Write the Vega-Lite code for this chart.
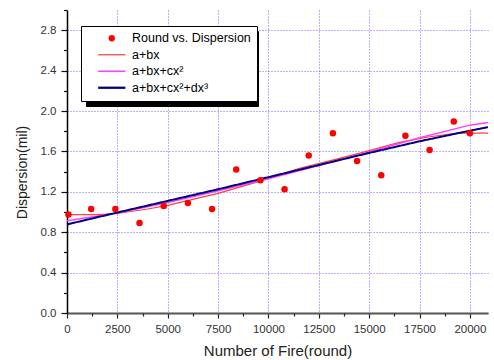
{
  "$schema": "https://vega.github.io/schema/vega-lite/v6.json",
  "width": 421,
  "height": 303,
  "autosize": {"type": "none"},
  "padding": {"left": 67, "top": 10, "right": 6, "bottom": 47},
  "background": "white",
  "config": {
    "font": "Liberation Sans",
    "view": {"stroke": null},
    "axis": {"gridColor": "#3a3aff", "gridOpacity": 0.75, "gridDash": [1, 2], "gridWidth": 1, "labelFont": "Liberation Sans", "titleFont": "Liberation Sans", "titleFontWeight": "normal"}
  },
  "datasets": {
    "points": [
      {"x": 70, "y": 0.975, "series": "Round vs. Dispersion"},
      {"x": 1200, "y": 1.03, "series": "Round vs. Dispersion"},
      {"x": 2400, "y": 1.03, "series": "Round vs. Dispersion"},
      {"x": 3600, "y": 0.89, "series": "Round vs. Dispersion"},
      {"x": 4800, "y": 1.06, "series": "Round vs. Dispersion"},
      {"x": 6000, "y": 1.09, "series": "Round vs. Dispersion"},
      {"x": 7200, "y": 1.03, "series": "Round vs. Dispersion"},
      {"x": 8400, "y": 1.42, "series": "Round vs. Dispersion"},
      {"x": 9600, "y": 1.315, "series": "Round vs. Dispersion"},
      {"x": 10800, "y": 1.225, "series": "Round vs. Dispersion"},
      {"x": 12000, "y": 1.56, "series": "Round vs. Dispersion"},
      {"x": 13200, "y": 1.78, "series": "Round vs. Dispersion"},
      {"x": 14400, "y": 1.505, "series": "Round vs. Dispersion"},
      {"x": 15600, "y": 1.365, "series": "Round vs. Dispersion"},
      {"x": 16800, "y": 1.755, "series": "Round vs. Dispersion"},
      {"x": 18000, "y": 1.615, "series": "Round vs. Dispersion"},
      {"x": 19200, "y": 1.895, "series": "Round vs. Dispersion"},
      {"x": 20000, "y": 1.78, "series": "Round vs. Dispersion"}
    ],
    "fits": [
      {"x": 0, "y": 0.975, "series": "a+bx"},
      {"x": 1500, "y": 0.975, "series": "a+bx"},
      {"x": 2500, "y": 0.985, "series": "a+bx"},
      {"x": 4000, "y": 1.03, "series": "a+bx"},
      {"x": 5000, "y": 1.065, "series": "a+bx"},
      {"x": 7500, "y": 1.185, "series": "a+bx"},
      {"x": 9500, "y": 1.3, "series": "a+bx"},
      {"x": 11500, "y": 1.43, "series": "a+bx"},
      {"x": 14500, "y": 1.58, "series": "a+bx"},
      {"x": 16500, "y": 1.69, "series": "a+bx"},
      {"x": 18000, "y": 1.745, "series": "a+bx"},
      {"x": 19400, "y": 1.78, "series": "a+bx"},
      {"x": 20900, "y": 1.78, "series": "a+bx"},
      {"x": 0, "y": 0.913, "series": "a+bx+cx²"},
      {"x": 2500, "y": 0.99, "series": "a+bx+cx²"},
      {"x": 5000, "y": 1.095, "series": "a+bx+cx²"},
      {"x": 7500, "y": 1.21, "series": "a+bx+cx²"},
      {"x": 10000, "y": 1.33, "series": "a+bx+cx²"},
      {"x": 12500, "y": 1.46, "series": "a+bx+cx²"},
      {"x": 15000, "y": 1.595, "series": "a+bx+cx²"},
      {"x": 17500, "y": 1.735, "series": "a+bx+cx²"},
      {"x": 20000, "y": 1.86, "series": "a+bx+cx²"},
      {"x": 20900, "y": 1.885, "series": "a+bx+cx²"},
      {"x": 0, "y": 0.877, "series": "a+bx+cx²+dx³"},
      {"x": 2500, "y": 0.995, "series": "a+bx+cx²+dx³"},
      {"x": 5000, "y": 1.11, "series": "a+bx+cx²+dx³"},
      {"x": 7500, "y": 1.225, "series": "a+bx+cx²+dx³"},
      {"x": 10000, "y": 1.345, "series": "a+bx+cx²+dx³"},
      {"x": 12500, "y": 1.465, "series": "a+bx+cx²+dx³"},
      {"x": 15000, "y": 1.585, "series": "a+bx+cx²+dx³"},
      {"x": 17500, "y": 1.7, "series": "a+bx+cx²+dx³"},
      {"x": 20000, "y": 1.805, "series": "a+bx+cx²+dx³"},
      {"x": 20900, "y": 1.84, "series": "a+bx+cx²+dx³"}
    ]
  },
  "resolve": {"axis": {"x": "independent", "y": "independent"}},
  "layer": [
    {
      "data": {"name": "fits"},
      "transform": [{"filter": "datum.series === 'a+bx'"}],
      "mark": {"type": "line", "strokeWidth": 1.2, "color": "#ff4040"},
      "encoding": {
        "x": {"field": "x", "type": "quantitative", "scale": {"domain": [0, 20900], "nice": false, "zero": false},
          "axis": {"orient": "bottom", "values": [0, 2500, 5000, 7500, 10000, 12500, 15000, 17500, 20000], "format": "d", "grid": true, "tickSize": 5, "tickColor": "#222", "tickWidth": 1.2, "domainColor": "#555", "domainWidth": 2, "labelFontSize": 11.5, "labelColor": "#333", "labelPadding": 5, "labelFlush": false, "labelOverlap": false, "title": "Number of Fire(round)", "titleFontSize": 15, "titleColor": "#222", "titleY": 42.8, "titleBaseline": "alphabetic"}},
        "y": {"field": "y", "type": "quantitative", "scale": {"domain": [0, 3], "nice": false, "zero": false},
          "axis": {"orient": "left", "values": [0, 0.4, 0.8, 1.2, 1.6, 2.0, 2.4, 2.8], "format": ".1f", "grid": true, "tickSize": 6, "tickColor": "#111", "tickWidth": 1.2, "domainColor": "#000", "domainWidth": 1.5, "labelFontSize": 11.5, "labelColor": "#333", "labelPadding": 5, "labelFlush": false, "labelOverlap": false, "title": "Dispersion(mil)", "titleFontSize": 14, "titleColor": "#222", "titleX": -45, "titleY": 162, "titleBaseline": "middle", "titleAngle": -90}}
      }
    },
    {
      "data": {"name": "fits"},
      "transform": [{"filter": "datum.series === 'a+bx+cx²'"}],
      "mark": {"type": "line", "strokeWidth": 1.5, "color": "#ff40ff"},
      "encoding": {
        "x": {"field": "x", "type": "quantitative", "axis": null},
        "y": {"field": "y", "type": "quantitative", "axis": null}
      }
    },
    {
      "data": {"name": "fits"},
      "transform": [{"filter": "datum.series === 'a+bx+cx²+dx³'"}],
      "mark": {"type": "line", "strokeWidth": 2, "color": "#000080"},
      "encoding": {
        "x": {"field": "x", "type": "quantitative", "axis": null},
        "y": {"field": "y", "type": "quantitative", "axis": null},
        "strokeDash": {"field": "series", "type": "nominal",
          "scale": {"domain": ["a+bx", "a+bx+cx²", "a+bx+cx²+dx³", "Round vs. Dispersion"], "range": [[1, 0], [1, 0], [1, 0], [1, 0]]},
          "legend": {"title": null, "orient": "none", "legendX": 19, "legendY": 21, "zindex": 1, "padding": 6, "fillColor": "#000", "strokeColor": "#000", "labelColor": "#000", "labelExpr": "''", "labelFont": "Liberation Sans", "labelFontSize": 12.5, "symbolSize": 40, "symbolType": "circle", "symbolFillColor": "#000", "symbolStrokeColor": "#000", "symbolOffset": 18.5, "labelOffset": 129, "rowPadding": 3.5, "labelLimit": 300}}
      }
    },
    {
      "data": {"name": "points"},
      "mark": {"type": "point", "filled": true, "size": 42, "opacity": 1},
      "encoding": {
        "x": {"field": "x", "type": "quantitative",
          "axis": {"orient": "bottom", "values": [1250, 3750, 6250, 8750, 11250, 13750, 16250, 18750], "labels": false, "domain": false, "grid": false, "tickSize": 3, "tickColor": "#222", "tickWidth": 1.2, "title": null}},
        "y": {"field": "y", "type": "quantitative",
          "axis": {"orient": "left", "values": [0.2, 0.6, 1.0, 1.4, 1.8, 2.2, 2.6, 3.0], "labels": false, "domain": false, "grid": false, "tickSize": 3.5, "tickColor": "#111", "tickWidth": 1.2, "title": null}},
        "color": {"field": "series", "type": "nominal",
          "scale": {"domain": ["Round vs. Dispersion", "a+bx", "a+bx+cx²", "a+bx+cx²+dx³"], "range": ["#ff0000", "#ff5050", "#ff40ff", "#000080"]},
          "legend": {"title": null, "orient": "none", "legendX": 14, "legendY": 16, "zindex": 2, "padding": 6, "fillColor": "#fff", "strokeColor": "#000", "labelColor": "#000", "labelFont": "Liberation Sans", "labelFontSize": 12.5, "symbolSize": 40, "symbolOffset": 18.5, "labelOffset": 14, "rowPadding": 3.5, "labelLimit": 300}},
        "shape": {"field": "series", "type": "nominal",
          "scale": {"domain": ["Round vs. Dispersion", "a+bx", "a+bx+cx²", "a+bx+cx²+dx³"], "range": ["circle", "M-4.3,-0.22H4.3V0.22H-4.3Z", "M-4.3,-0.25H4.3V0.25H-4.3Z", "M-4.3,-0.36H4.3V0.36H-4.3Z"]},
          "legend": {"title": null, "orient": "none", "legendX": 14, "legendY": 16, "zindex": 2, "padding": 6, "fillColor": "#fff", "strokeColor": "#000", "labelColor": "#000", "labelFont": "Liberation Sans", "labelFontSize": 12.5, "symbolSize": 40, "symbolOffset": 18.5, "labelOffset": 14, "rowPadding": 3.5, "labelLimit": 300}}
      }
    }
  ]
}
